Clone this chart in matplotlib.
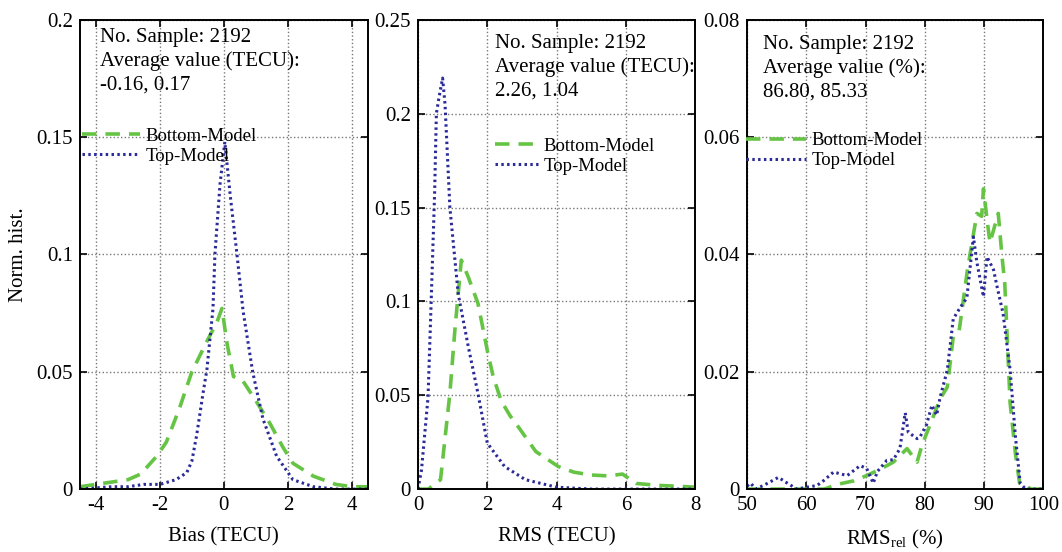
import matplotlib.pyplot as plt
from matplotlib.ticker import FuncFormatter

plt.rcParams['font.family'] = ['Liberation Serif', 'DejaVu Serif']
plt.rcParams['mathtext.fontset'] = 'custom'
plt.rcParams['mathtext.rm'] = 'Liberation Serif'

# --- data ---
# panel 1: bias
bias_bot_x = [-4.5, -4.0, -3.5, -3.0, -2.6, -2.1, -1.8, -1.4, -1.0, -0.53, -0.22, -0.06,
              0.1, 0.3, 0.6, 1.03, 1.44, 1.84, 2.16, 2.8, 3.5, 4.0, 4.5]
bias_bot_y = [0.001, 0.002, 0.003, 0.004, 0.0064, 0.014, 0.020, 0.034, 0.050, 0.063, 0.071, 0.077,
              0.062, 0.048, 0.046, 0.037, 0.028, 0.018, 0.011, 0.0055, 0.002, 0.001, 0.001]
bias_top_x = [-4.5, -4.0, -3.5, -3.0, -2.5, -2.0, -1.5, -1.16, -1.0, -0.85, -0.65, -0.53, -0.34,
              -0.28, -0.12, 0.03, 0.2, 0.41, 0.6, 0.9, 1.22, 1.65, 2.16, 2.8, 3.5, 4.0, 4.5]
bias_top_y = [0.0, 0.0005, 0.001, 0.001, 0.002, 0.002, 0.004, 0.007, 0.012, 0.023, 0.041, 0.051, 0.077,
              0.100, 0.130, 0.148, 0.125, 0.100, 0.076, 0.050, 0.030, 0.014, 0.004, 0.001, 0.0, 0.0, 0.0]

# panel 2: rms
rms_bot_x = [0.0, 0.3, 0.65, 0.92, 1.07, 1.25, 1.45, 1.73, 2.02, 2.17, 2.4, 2.66, 2.9, 3.4,
             4.05, 4.5, 5.0, 5.5, 5.9, 6.3, 6.9, 7.5, 8.0]
rms_bot_y = [0.0, 0.0, 0.005, 0.051, 0.086, 0.122, 0.113, 0.099, 0.072, 0.060, 0.047, 0.039, 0.033, 0.020,
             0.012, 0.009, 0.0075, 0.007, 0.008, 0.003, 0.002, 0.0015, 0.001]
rms_top_x = [0.0, 0.1, 0.29, 0.38, 0.48, 0.53, 0.6, 0.71, 0.78, 0.92, 1.16, 1.45, 1.73, 2.0,
             2.5, 3.1, 4.0, 5.0, 6.0, 7.0, 8.0]
rms_top_y = [0.0, 0.01, 0.049, 0.10, 0.158, 0.200, 0.208, 0.219, 0.205, 0.150, 0.104, 0.076, 0.051, 0.0245,
             0.012, 0.005, 0.001, 0.0, 0.0, 0.0, 0.0]

# panel 3: relative rms
rel_bot_x = [50, 55, 60, 63, 65.7, 68, 70.2, 72.5, 74.7, 77, 78.7, 79.5, 80.9, 82.6, 83.8, 84.8,
             85.8, 87.2, 88.8, 89.6, 89.9, 90.5, 91, 92.4, 93, 93.5, 93.9, 94.4, 95.3, 96, 98, 100]
rel_bot_y = [0.0, 0.0, 0.0, 0.0, 0.0009, 0.0014, 0.0023, 0.0034, 0.0046, 0.0069, 0.0046, 0.0074, 0.011,
             0.0154, 0.0174, 0.026, 0.027, 0.0374, 0.047, 0.0465, 0.0512, 0.046, 0.042, 0.047, 0.040, 0.035,
             0.026, 0.0147, 0.006, 0.001, 0.0, 0.0]
rel_top_x = [50, 50.6, 51.5, 52.5, 53.5, 55.3, 56.5, 58.4, 60, 61.8, 63, 64.6, 66.9, 69.1, 70.2, 71.3,
             72, 73.6, 74.7, 75.8, 76.7, 77.2, 78.7, 79.2, 80.3, 81.2, 82, 82.6, 83.8, 84.8, 86, 87.1,
             88.2, 88.8, 89.9, 90.5, 91.6, 92.2, 93.2, 94.4, 95.3, 96.1, 97, 100]
rel_top_y = [0.0005, 0.001, 0.0, 0.0005, 0.001, 0.002, 0.0012, 0.0, 0.0003, 0.0006, 0.0015, 0.0029, 0.0023,
             0.004, 0.0035, 0.001, 0.003, 0.0049, 0.005, 0.0069, 0.013, 0.0097, 0.0086, 0.0089, 0.011,
             0.0143, 0.0126, 0.0157, 0.0203, 0.029, 0.031, 0.0326, 0.043, 0.0386, 0.0328, 0.0396, 0.0374,
             0.0345, 0.030, 0.0203, 0.0089, 0.001, 0.0, 0.0]

notes = [
    "No. Sample: 2192\nAverage value (TECU):\n-0.16, 0.17",
    "No. Sample: 2192\nAverage value (TECU):\n2.26, 1.04",
    "No. Sample: 2192\nAverage value (%):\n86.80, 85.33",
]
xlabels = ["Bias (TECU)", "RMS (TECU)", r"RMS$_{\mathrm{rel}}$ (%)"]
xlims = [(-4.5, 4.5), (0, 8), (50, 100)]
xticks = [[-4, -2, 0, 2, 4], [0, 2, 4, 6, 8], [50, 60, 70, 80, 90, 100]]
ylims = [0.2, 0.25, 0.08]
yticks = [[0, 0.05, 0.1, 0.15, 0.2], [0, 0.05, 0.1, 0.15, 0.2, 0.25], [0, 0.02, 0.04, 0.06, 0.08]]

GREEN = '#66c444'
BLUE = '#2a2a98'

fig = plt.figure(figsize=(10.62, 5.52), dpi=100)
boxes = [[0.0753, 0.114, 0.271, 0.850],
         [0.3936, 0.114, 0.261, 0.850],
         [0.7034, 0.114, 0.279, 0.850]]
note_pos = [(0.069, 0.982), (0.278, 0.970), (0.054, 0.968)]
leg_pos = [(0.0, 0.774), (0.27, 0.753), (-0.01, 0.765)]
handle_len = [3.1, 2.3, 3.2]

series = [
    (bias_bot_x, bias_bot_y, bias_top_x, bias_top_y),
    (rms_bot_x, rms_bot_y, rms_top_x, rms_top_y),
    (rel_bot_x, rel_bot_y, rel_top_x, rel_top_y),
]

fmt = FuncFormatter(lambda v, p: '%g' % v)

for i in range(3):
    ax = fig.add_axes(boxes[i])
    bx, by, tx, ty = series[i]
    ax.plot(bx, by, color=GREEN, lw=2.6, ls=(0, (4, 2.5)), label='Bottom-Model')
    ax.plot(tx, ty, color=BLUE, lw=2.2, ls=(0, (0.8, 1.1)), label='Top-Model')
    ax.set_xlim(*xlims[i])
    ax.set_ylim(0, ylims[i])
    ax.set_xticks(xticks[i])
    ax.set_yticks(yticks[i])
    ax.yaxis.set_major_formatter(fmt)
    ax.xaxis.set_major_formatter(fmt)
    ax.tick_params(direction='in', top=True, right=True, labelsize=15, length=5, width=1.2, pad=5)
    ax.grid(True, ls=':', color='#777777', lw=1.0)
    for s in ax.spines.values():
        s.set_linewidth(1.4)
    ax.set_xlabel(xlabels[i], fontsize=15, labelpad=9)
    ax.text(note_pos[i][0], note_pos[i][1], notes[i], transform=ax.transAxes,
            fontsize=15, va='top', ha='left', linespacing=1.3)
    ax.legend(loc='upper left', bbox_to_anchor=leg_pos[i], frameon=False, fontsize=13.5,
              handlelength=handle_len[i], handletextpad=0.3, borderpad=0.1, labelspacing=0.15,
              borderaxespad=0)
    if i == 0:
        ax.set_ylabel('Norm. hist.', fontsize=15, labelpad=6)

fig.savefig('out.png', dpi=100, facecolor='white')
